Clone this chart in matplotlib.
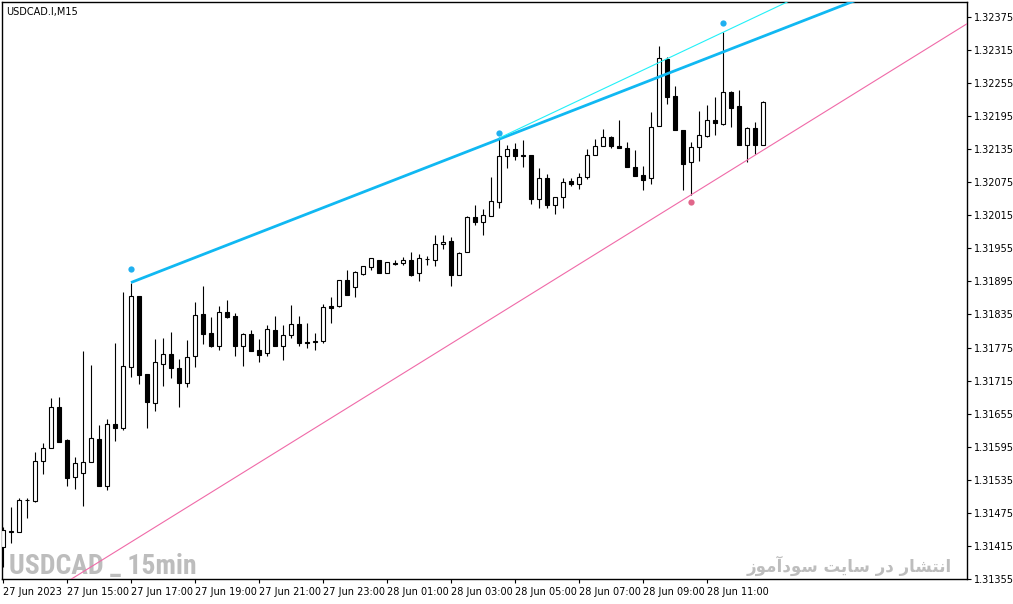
import matplotlib
matplotlib.use('Agg')
import matplotlib.pyplot as plt
from matplotlib import font_manager
import numpy as np

# USDCAD.I M15 bars, 27 Jun 2023 13:00 .. 28 Jun 2023 12:45
opens = [1.31413, 1.31441, 1.31441, 1.31498, 1.31497, 1.31569, 1.31592, 1.31667,
         1.31607, 1.31540, 1.31547, 1.31567, 1.31609, 1.31524, 1.31636, 1.31629,
         1.31740, 1.31869, 1.31727, 1.31675, 1.31746, 1.31763, 1.31737, 1.31710,
         1.31759, 1.31836, 1.31801, 1.31777, 1.31840, 1.31832, 1.31777, 1.31800,
         1.31771, 1.31765, 1.31807, 1.31777, 1.31797, 1.31817, 1.31785, 1.31785,
         1.31786, 1.31850, 1.31850, 1.31897, 1.31884, 1.31908, 1.31921, 1.31933,
         1.31910, 1.31929, 1.31928, 1.31933, 1.31910, 1.31935, 1.31934, 1.31962,
         1.31968, 1.31906, 1.31948, 1.32011, 1.32003, 1.32014, 1.32039, 1.32123,
         1.32135, 1.32125, 1.32125, 1.32044, 1.32082, 1.32033, 1.32048, 1.32077,
         1.32071, 1.32084, 1.32125, 1.32141, 1.32157, 1.32141, 1.32137, 1.32103,
         1.32088, 1.32082, 1.32177, 1.32298, 1.32232, 1.32170, 1.32111, 1.32139,
         1.32158, 1.32188, 1.32180, 1.32239, 1.32213, 1.32143, 1.32174, 1.32142]
highs = [1.31450, 1.31486, 1.31502, 1.31502, 1.31585, 1.31602, 1.31684, 1.31685,
         1.31609, 1.31576, 1.31769, 1.31743, 1.31635, 1.31645, 1.31783, 1.31876,
         1.31893, 1.31869, 1.31727, 1.31790, 1.31792, 1.31803, 1.31754, 1.31789,
         1.31858, 1.31887, 1.31831, 1.31851, 1.31861, 1.31837, 1.31802, 1.31807,
         1.31791, 1.31816, 1.31832, 1.31816, 1.31852, 1.31832, 1.31820, 1.31801,
         1.31854, 1.31866, 1.31897, 1.31916, 1.31914, 1.31923, 1.31938, 1.31933,
         1.31930, 1.31934, 1.31939, 1.31948, 1.31944, 1.31941, 1.31979, 1.31979,
         1.31976, 1.31948, 1.32014, 1.32034, 1.32026, 1.32085, 1.32157, 1.32143,
         1.32146, 1.32152, 1.32125, 1.32100, 1.32090, 1.32048, 1.32082, 1.32083,
         1.32092, 1.32135, 1.32153, 1.32172, 1.32159, 1.32188, 1.32148, 1.32134,
         1.32105, 1.32202, 1.32322, 1.32303, 1.32250, 1.32170, 1.32148, 1.32204,
         1.32215, 1.32230, 1.32347, 1.32241, 1.32243, 1.32176, 1.32184, 1.32223]
lows = [1.31377, 1.31421, 1.31441, 1.31466, 1.31495, 1.31546, 1.31592, 1.31604,
        1.31524, 1.31519, 1.31488, 1.31567, 1.31524, 1.31517, 1.31606, 1.31625,
        1.31722, 1.31709, 1.31629, 1.31660, 1.31706, 1.31719, 1.31668, 1.31703,
        1.31739, 1.31781, 1.31776, 1.31771, 1.31828, 1.31760, 1.31742, 1.31768,
        1.31748, 1.31759, 1.31777, 1.31753, 1.31792, 1.31777, 1.31774, 1.31771,
        1.31784, 1.31820, 1.31848, 1.31871, 1.31867, 1.31906, 1.31916, 1.31910,
        1.31910, 1.31924, 1.31924, 1.31904, 1.31896, 1.31924, 1.31923, 1.31954,
        1.31887, 1.31906, 1.31948, 1.31998, 1.31979, 1.32014, 1.32029, 1.32101,
        1.32115, 1.32103, 1.32036, 1.32029, 1.32029, 1.32017, 1.32029, 1.32068,
        1.32062, 1.32080, 1.32125, 1.32141, 1.32137, 1.32137, 1.32103, 1.32087,
        1.32061, 1.32072, 1.32177, 1.32217, 1.32169, 1.32060, 1.32052, 1.32114,
        1.32157, 1.32161, 1.32178, 1.32175, 1.32143, 1.32112, 1.32126, 1.32142]
closes = [1.31444, 1.31442, 1.31498, 1.31499, 1.31569, 1.31592, 1.31667, 1.31604,
          1.31539, 1.31565, 1.31567, 1.31610, 1.31524, 1.31636, 1.31629, 1.31741,
          1.31869, 1.31725, 1.31677, 1.31748, 1.31763, 1.31737, 1.31710, 1.31757,
          1.31834, 1.31800, 1.31777, 1.31839, 1.31831, 1.31777, 1.31800, 1.31769,
          1.31762, 1.31809, 1.31777, 1.31797, 1.31817, 1.31784, 1.31784, 1.31786,
          1.31848, 1.31847, 1.31897, 1.31871, 1.31912, 1.31923, 1.31937, 1.31910,
          1.31930, 1.31926, 1.31933, 1.31906, 1.31937, 1.31936, 1.31962, 1.31966,
          1.31906, 1.31947, 1.32011, 1.32003, 1.32015, 1.32041, 1.32123, 1.32135,
          1.32123, 1.32123, 1.32044, 1.32082, 1.32033, 1.32048, 1.32076, 1.32071,
          1.32084, 1.32125, 1.32141, 1.32157, 1.32140, 1.32137, 1.32103, 1.32087,
          1.32079, 1.32176, 1.32300, 1.32230, 1.32169, 1.32108, 1.32139, 1.32160,
          1.32188, 1.32182, 1.32239, 1.32210, 1.32143, 1.32174, 1.32143, 1.32220]

# trend lines (bar index, price)
upper_main = [(16, 1.31893), (62, 1.32153)]
upper_fast = [(62, 1.32155), (90, 1.32347)]
lower_line = [(86, 1.32052), (93, 1.32115)]

# fractal dots
up_fractal_bars = [16, 62, 90]
up_fractal_prices = [1.31918, 1.32164, 1.32364]
down_fractal_bars = [86]
down_fractal_prices = [1.32039]

x_tick_bars = [0, 8, 16, 24, 32, 40, 48, 56, 64, 72, 80, 88]
x_tick_labels = ['27 Jun 2023', '27 Jun 15:00', '27 Jun 17:00', '27 Jun 19:00',
                 '27 Jun 21:00', '27 Jun 23:00', '28 Jun 01:00', '28 Jun 03:00',
                 '28 Jun 05:00', '28 Jun 07:00', '28 Jun 09:00', '28 Jun 11:00']
y_ticks = [1.31355, 1.31415, 1.31475, 1.31535, 1.31595, 1.31655, 1.31715, 1.31775,
           1.31835, 1.31895, 1.31955, 1.32015, 1.32075, 1.32135, 1.32195, 1.32255,
           1.32315, 1.32375]

W, H = 1013, 604
fig = plt.figure(figsize=(W / 100, H / 100), dpi=100)
ax = fig.add_axes([2 / W, 25 / H, 965 / W, 577 / H])

o = np.array(opens)
c = np.array(closes)
x = np.arange(len(o))
bull = c >= o

# wicks, then bodies
ax.vlines(x, lows, highs, color='black', linewidth=0.8, zorder=2)
body_low = np.minimum(o, c)
body_h = np.maximum(np.abs(c - o), 0.000004)
ax.bar(x, body_h, bottom=body_low, width=0.6,
       color=np.where(bull, 'white', 'black'), edgecolor='black',
       linewidth=0.8, zorder=3)

x_end = 130


def ray(pts, color, lw):
    (x1, y1), (x2, y2) = pts
    slope = (y2 - y1) / (x2 - x1)
    ax.plot([x1, x_end], [y1, y1 + slope * (x_end - x1)], color=color,
            linewidth=lw, zorder=4, solid_capstyle='butt')


ray(upper_main, '#10b8f2', 2.0)
ray(upper_fast, '#22f0f8', 0.8)
ax.axline(lower_line[0], lower_line[1], color='#f06aa8', linewidth=0.8, zorder=4)

ax.plot(up_fractal_bars, up_fractal_prices, 'o', color='#20b0f0',
        markersize=4.5, markeredgewidth=0, zorder=5)
ax.plot(down_fractal_bars, down_fractal_prices, 'o', color='#e0668a',
        markersize=4.5, markeredgewidth=0, zorder=5)

ax.set_xlim(-0.125, 120.5)
ax.set_ylim(1.31355, 1.32402)

ax.yaxis.tick_right()
ax.set_yticks(y_ticks)
ax.set_yticklabels([f'{v:.5f}' for v in y_ticks])
ax.set_xticks(x_tick_bars)
ax.set_xticklabels(x_tick_labels, ha='left')
ax.tick_params(axis='both', direction='out', length=3, width=0.8,
               labelsize=7, colors='black', pad=2)
ax.tick_params(axis='x', pad=3)
for s in ax.spines.values():
    s.set_linewidth(1.0)
    s.set_color('black')

ax.text(4 / 965, 1 - 10 / 577, 'USDCAD.I,M15', transform=ax.transAxes,
        fontsize=7, va='center', ha='left', color='black')

# narrow bold face for the symbol watermark, if one is installed
names = {f.name for f in font_manager.fontManager.ttflist}
narrow = [n for n in ['Roboto Condensed', 'Liberation Sans Narrow',
                      'DejaVu Sans Condensed', 'Open Sans Condensed'] if n in names]
wm = ax.text(7 / 965, -1 / 577, 'USDCAD _ 15min', transform=ax.transAxes,
             fontsize=20, fontweight='bold', color='#bdbdbd', ha='left',
             va='bottom', family=narrow + ['DejaVu Sans'],
             fontstretch='condensed')
if not narrow:
    # no condensed face: squeeze the font size to the reference width
    wm.set_fontsize(16)

# Persian watermark, written in presentation forms (no shaping in matplotlib)
persian_logical = ('\uFE8D\uFEE7\uFE98\uFEB8\uFE8E\uFEAD' + ' ' +
                   '\uFEA9\uFEAD' + ' ' +
                   '\uFEB3\uFE8E\uFBFE\uFE96' + ' ' +
                   '\uFEB3\uFEEE\uFEA9\uFE81\uFEE3\uFEEE\uFEAF')
persian_visual = persian_logical[::-1]
ax.text(1 - 15 / 965, 13 / 577, persian_visual, transform=ax.transAxes,
        fontsize=12, fontweight='bold', color='#bdbdbd', ha='right',
        va='center', family=['DejaVu Sans'])

fig.savefig('out.png', dpi=100)
